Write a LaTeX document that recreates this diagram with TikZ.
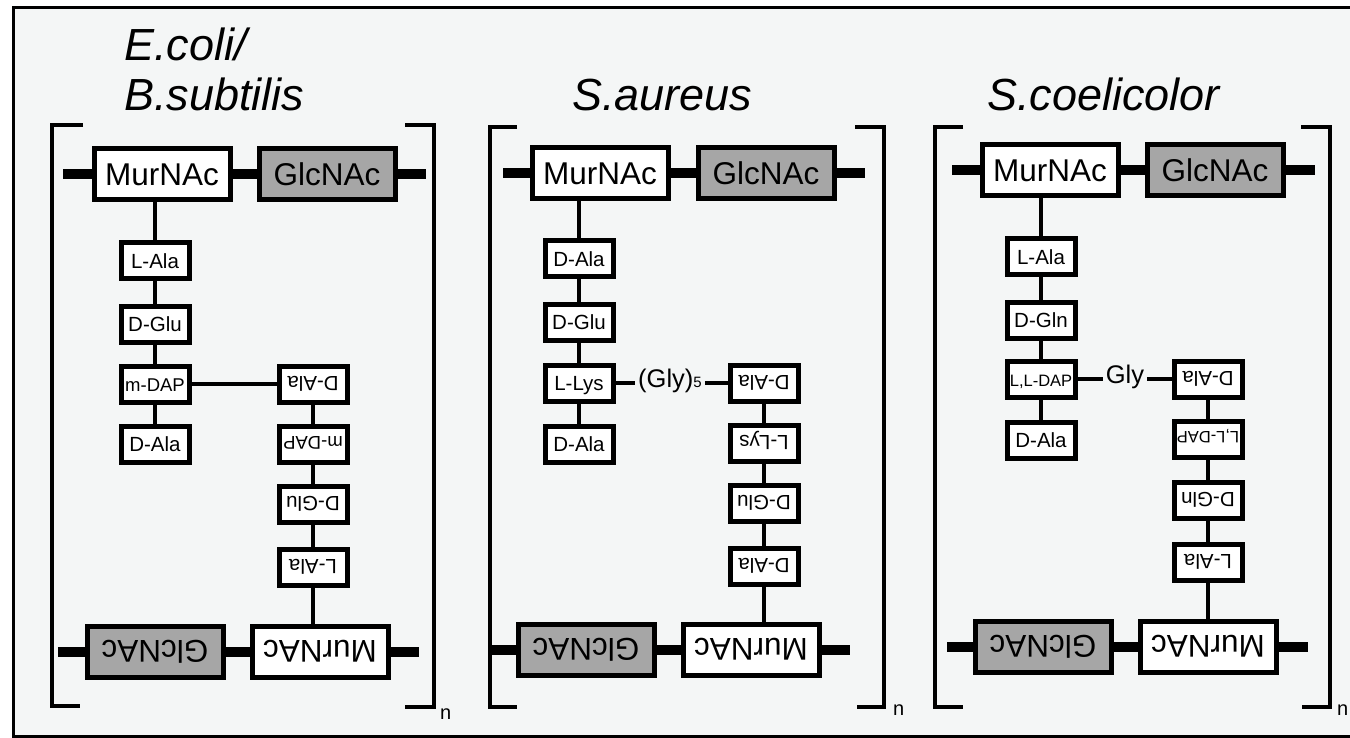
\documentclass[tikz,border=0pt]{standalone}
\usepackage{fontspec}
\setmainfont{Liberation Sans}
\usetikzlibrary{backgrounds}
\definecolor{paper}{RGB}{244,246,246}
\definecolor{sugar}{RGB}{166,166,166}

\tikzset{
  sugarbox/.style={draw, line width=5pt, fill=white, inner sep=0pt,
    minimum width=136pt, minimum height=51pt,
    text height=22.5pt, text depth=0pt, font=\fontsize{31.5}{31.5}\selectfont},
  glcbox/.style={sugarbox, fill=sugar},
  aabox/.style={draw, line width=5pt, fill=white, inner sep=0pt,
    minimum width=68pt, minimum height=36pt,
    text height=15pt, text depth=0pt, font=\fontsize{20.5}{20.5}\selectfont},
  dapfont/.style={font=\fontsize{18.5}{18.5}\selectfont},
  lldapfont/.style={font=\fontsize{16.5}{16.5}\selectfont},
  flipped/.style={rotate=180},
  peptide/.style={line width=4pt},
  glyco/.style={line width=10pt},
  brk/.style={line width=3.5pt},
  frame/.style={line width=3pt},
  species/.style={anchor=base west, inner sep=0pt,
    font=\fontsize{45}{45}\selectfont\itshape},
  bridge/.style={anchor=base, inner sep=3pt, font=\fontsize{25.5}{25.5}\selectfont},
  repeat/.style={anchor=base west, inner sep=0pt, font=\fontsize{20}{20}\selectfont},
}

\begin{document}
\begin{tikzpicture}[x=1pt, y=-1pt]
\useasboundingbox (0,0) rectangle (1350,738);

% ---------------- E. coli / B. subtilis ----------------
\node[species] (t1a) at (124,61) {E.coli/};
\node[species] (t1b) at (124,111) {B.subtilis};

\node[sugarbox] (m1t) at (162,174) {MurNAc};
\node[glcbox]   (g1t) at (327,174) {GlcNAc};
\node[aabox] (a11) at (155,261) {L-Ala};
\node[aabox] (a12) at (155,324) {D-Glu};
\node[aabox, dapfont] (a13) at (155,384) {m-DAP};
\node[aabox] (a14) at (155,444) {D-Ala};
\node[aabox, flipped] (b11) at (313,384) {D-Ala};
\node[aabox, flipped, dapfont] (b12) at (313,444) {m-DAP};
\node[aabox, flipped] (b13) at (313,504) {D-Glu};
\node[aabox, flipped] (b14) at (313,567) {L-Ala};
\node[sugarbox, flipped] (m1b) at (320,652) {MurNAc};
\node[glcbox, flipped]   (g1b) at (155,652) {GlcNAc};
\node[repeat] (n1) at (440,719) {n};

\coordinate (e1tl) at (63,174);
\coordinate (e1tr) at (426,174);
\coordinate (e1bl) at (58,652);
\coordinate (e1br) at (419,652);

\draw[brk] (83,125) -- (52,125) -- (52,706) -- (80,706);
\draw[brk] (405,125) -- (434,125) -- (434,707) -- (405,707);

% ---------------- S. aureus ----------------
\node[species] (t2) at (572,111) {S.aureus};

\node[sugarbox] (m2t) at (600,173) {MurNAc};
\node[glcbox]   (g2t) at (766,173) {GlcNAc};
\node[aabox] (a21) at (579,259) {D-Ala};
\node[aabox] (a22) at (579,322) {D-Glu};
\node[aabox] (a23) at (579,383) {L-Lys};
\node[aabox] (a24) at (579,444) {D-Ala};
\node[bridge] (gly2) at (670,387) {(Gly){\fontsize{15}{15}\selectfont 5}};
\node[aabox, flipped] (b21) at (764,383) {D-Ala};
\node[aabox, flipped] (b22) at (764,443) {L-Lys};
\node[aabox, flipped] (b23) at (764,503) {D-Glu};
\node[aabox, flipped] (b24) at (764,566) {D-Ala};
\node[sugarbox, flipped] (m2b) at (751,650) {MurNAc};
\node[glcbox, flipped]   (g2b) at (586,650) {GlcNAc};
\node[repeat] (n2) at (893,715) {n};

\coordinate (e2tl) at (503,173);
\coordinate (e2tr) at (865,173);
\coordinate (e2bl) at (490,650);
\coordinate (e2br) at (850,650);

\draw[brk] (517,127) -- (490,127) -- (490,707) -- (517,707);
\draw[brk] (855,127) -- (884,127) -- (884,707) -- (857,707);

% ---------------- S. coelicolor ----------------
\node[species] (t3) at (987,111) {S.coelicolor};

\node[sugarbox] (m3t) at (1050,170) {MurNAc};
\node[glcbox]   (g3t) at (1215,170) {GlcNAc};
\node[aabox] (a31) at (1041,257) {L-Ala};
\node[aabox] (a32) at (1041,320) {D-Gln};
\node[aabox, lldapfont] (a33) at (1041,379) {L,L-DAP};
\node[aabox] (a34) at (1041,440) {D-Ala};
\node[bridge] (gly3) at (1125,383) {Gly};
\node[aabox, flipped] (b31) at (1208,379) {D-Ala};
\node[aabox, flipped, lldapfont] (b32) at (1208,439) {L,L-DAP};
\node[aabox, flipped] (b33) at (1208,500) {D-Gln};
\node[aabox, flipped] (b34) at (1208,562) {L-Ala};
\node[sugarbox, flipped] (m3b) at (1208,647) {MurNAc};
\node[glcbox, flipped]   (g3b) at (1043,647) {GlcNAc};
\node[repeat] (n3) at (1337,715) {n};

\coordinate (e3tl) at (952,170);
\coordinate (e3tr) at (1315,170);
\coordinate (e3bl) at (947,647);
\coordinate (e3br) at (1308,647);

\draw[brk] (963,127) -- (935,127) -- (935,707) -- (963,707);
\draw[brk] (1301,127) -- (1330,127) -- (1330,707) -- (1302,707);

% ---------------- frame and connectors behind the boxes ----------------
\begin{pgfonlayer}{background}
  \fill[white] (0,0) rectangle (1350,738);
  \fill[paper] (13,8) rectangle (1350,736);
  \draw[frame] (1350,8) -- (13,8) -- (13,736) -- (1350,736);

  % glycan strands
  \draw[glyco] (e1tl) -- (m1t.center) -- (g1t.center) -- (e1tr);
  \draw[glyco] (e1bl) -- (g1b.center) -- (m1b.center) -- (e1br);
  \draw[glyco] (e2tl) -- (m2t.center) -- (g2t.center) -- (e2tr);
  \draw[glyco] (e2bl) -- (g2b.center) -- (m2b.center) -- (e2br);
  \draw[glyco] (e3tl) -- (m3t.center) -- (g3t.center) -- (e3tr);
  \draw[glyco] (e3bl) -- (g3b.center) -- (m3b.center) -- (e3br);

  % stem peptides and cross-links
  \draw[peptide] (a11.center |- m1t.center) -- (a11.center) -- (a12.center)
    -- (a13.center) -- (a14.center);
  \draw[peptide] (a13.center) -- (b11.center) -- (b12.center) -- (b13.center)
    -- (b14.center) -- (b14.center |- m1b.center);

  \draw[peptide] (a21.center |- m2t.center) -- (a21.center) -- (a22.center)
    -- (a23.center) -- (a24.center);
  \draw[peptide] (a23.center) -- (gly2.west |- a23.center);
  \draw[peptide] (gly2.east |- b21.center) -- (b21.center) -- (b22.center)
    -- (b23.center) -- (b24.center) -- (b24.center |- m2b.center);

  \draw[peptide] (a31.center |- m3t.center) -- (a31.center) -- (a32.center)
    -- (a33.center) -- (a34.center);
  \draw[peptide] (a33.center) -- (gly3.west |- a33.center);
  \draw[peptide] (gly3.east |- b31.center) -- (b31.center) -- (b32.center)
    -- (b33.center) -- (b34.center) -- (b34.center |- m3b.center);
\end{pgfonlayer}
\end{tikzpicture}
\end{document}
